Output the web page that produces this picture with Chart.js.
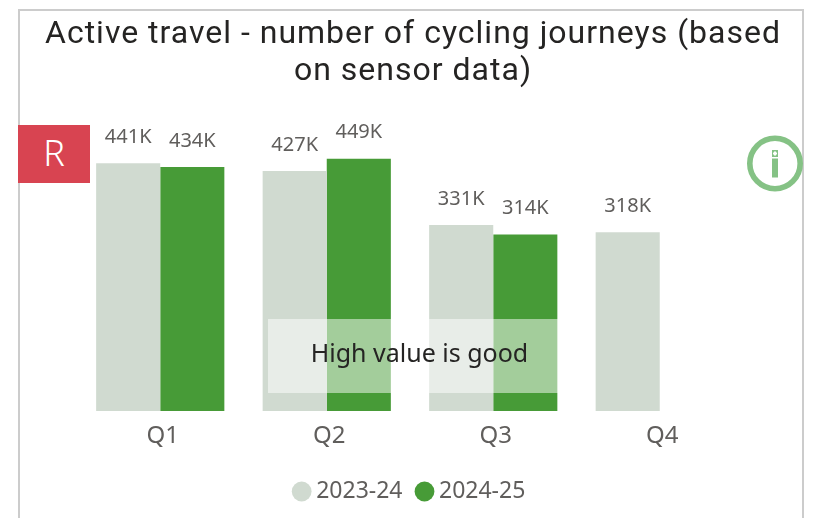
<!DOCTYPE html>
<html><head><meta charset="utf-8">
<style>
html,body{margin:0;padding:0;background:#fff;overflow:hidden;width:822px;height:518px}
#frame{position:absolute;left:18px;top:9px;width:782px;height:520px;border:2px solid #ccc}
#wrap{position:absolute;left:0;top:0;width:826px;height:518px}
canvas{display:block}
#r{position:absolute;left:18px;top:125px;width:72px;height:58px;background:#D84451;color:#fff;font:300 36px "Noto Sans",sans-serif;line-height:56px;text-align:center}
#note{position:absolute;left:268px;top:319px;width:303px;height:74px;background:rgba(255,255,255,.5);color:#252423;font:25px "Noto Sans",sans-serif;line-height:67px;text-align:center}
#info{position:absolute;left:746px;top:135px}
</style></head><body>
<div id="frame"></div>
<div id="wrap"><canvas id="c" width="826" height="518"></canvas></div>
<div id="r">R</div>
<div id="note">High value is good</div>
<svg id="info" width="58" height="58" viewBox="0 0 58 58"><circle cx="29" cy="28.5" r="25.2" fill="#fff" stroke="#85C285" stroke-width="5.6"/><rect x="26" y="23.5" width="6" height="19" fill="#85C285"/><rect x="26" y="15" width="6" height="7" fill="#85C285"/><rect x="28" y="16.5" width="2" height="4" fill="#fff"/><rect x="27" y="17.5" width="4" height="2" fill="#fff"/></svg>
<script src="https://cdn.jsdelivr.net/npm/chart.js@4/dist/chart.umd.min.js"></script>
<script>
const categories=["Q1","Q2","Q3","Q4"];
const series2324=[441,427,331,318];
const series2425=[434,449,314,null];
const seriesNames=["2023-24","2024-25"];
const titleLines=["Active travel - number of cycling journeys (based","on sensor data)"];
const labelPlugin={id:"valueLabels",
 afterLayout(ch){
  ch.legend.left-=1;ch.legend.right-=1;
  const t=ch.titleBlock;
  if(!t._spaced){t._spaced=true;const d=t.draw.bind(t);t.draw=function(){const c=ch.ctx;c.letterSpacing="1px";d();c.letterSpacing="0px";};}
 },
 afterDatasetsDraw(ch){const x=ch.ctx;x.save();x.font='20px "Noto Sans"';x.fillStyle="#605E5C";x.textAlign="center";x.textBaseline="middle";
 ch.data.datasets.forEach((d,i)=>ch.getDatasetMeta(i).data.forEach((b,j)=>{if(d.data[j]!=null)x.fillText(d.data[j]+"K",b.x,b.y-26);}));x.restore();}};
new Chart(document.getElementById("c"),{type:"bar",
 data:{labels:categories,datasets:[
  {label:seriesNames[0],data:series2324,backgroundColor:"#D0DAD0",borderWidth:0},
  {label:seriesNames[1],data:series2425,backgroundColor:"#479B37",borderWidth:0}]},
 options:{responsive:false,animation:false,devicePixelRatio:1,
  layout:{padding:{left:0,right:0,top:16.5,bottom:5}},
  datasets:{bar:{categoryPercentage:.77,barPercentage:1}},
  plugins:{
   title:{display:true,text:titleLines,color:"#252423",font:{family:"Roboto",size:32,weight:"400",lineHeight:1.156},padding:{top:0,bottom:39.5}},
   legend:{position:"bottom",labels:{usePointStyle:true,pointStyle:"circle",boxWidth:6,boxHeight:14,padding:19,color:"#605E5C",font:{family:"Noto Sans",size:23}}},
   tooltip:{enabled:false}},
  scales:{
   x:{grid:{display:false},border:{display:false},ticks:{color:"#605E5C",font:{family:"Noto Sans",size:24},padding:3,labelOffset:2.5,maxRotation:0},afterFit(s){s.height=50;}},
   y:{min:0,max:500,grid:{display:false},border:{display:false},ticks:{display:false},afterFit(s){s.width=77;}},
   yr:{position:"right",grid:{display:false},border:{display:false},ticks:{display:false},afterFit(s){s.width=83;}}
  }},
 plugins:[labelPlugin]});
</script></body></html>
